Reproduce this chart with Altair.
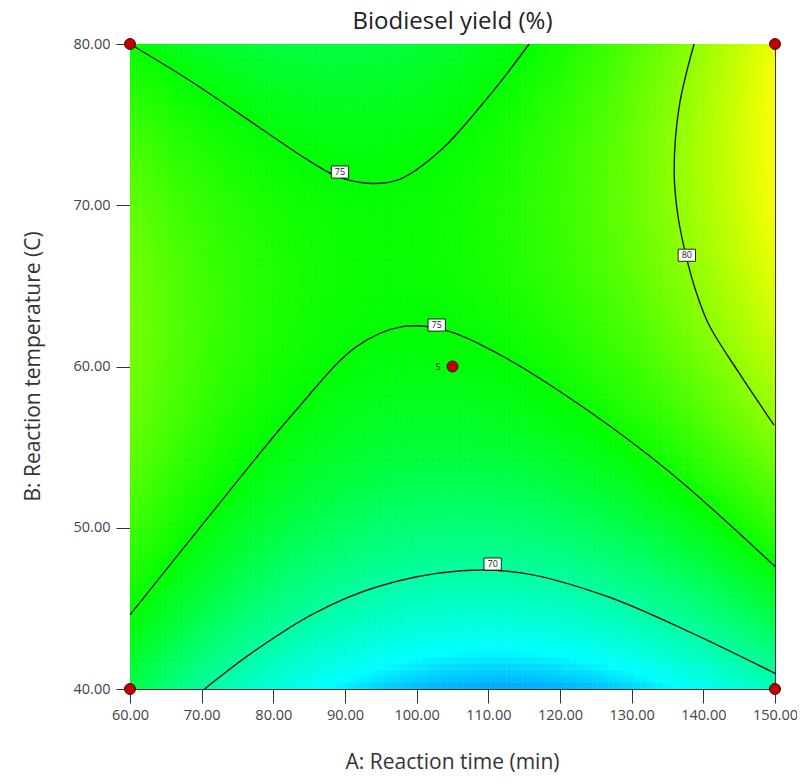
import numpy as np
import pandas as pd
import altair as alt

alt.data_transformers.disable_max_rows()

# ---- contour traces (A: time, B: temperature) ----
top75_x = [60.0, 68.6, 77.9, 84.8, 89.0, 93.2, 97.4, 103.4, 110.4, 115.7]
top75_y = [80.0, 77.66, 74.87, 72.81, 71.77, 71.36, 71.57, 73.43, 76.94, 80.0]

mid75_x = [60.0, 71.0, 82.8, 91.6, 98.0, 103.9, 112.1, 123.8, 135.5, 150.0]
mid75_y = [44.6, 50.69, 57.10, 61.23, 62.47, 62.26, 60.61, 57.30, 53.38, 47.6]

c70_x = [70.4, 76.9, 85.7, 94.5, 106.2, 115.0, 126.7, 138.5, 150.0]
c70_y = [40.0, 42.21, 44.69, 46.34, 47.33, 47.17, 45.72, 43.45, 40.97]

c80_x = [138.71, 136.62, 135.93, 136.48, 137.60, 139.00, 140.80, 144.98, 149.86]
c80_y = [80.0, 76.09, 72.0, 69.27, 66.85, 64.62, 62.57, 59.60, 56.37]

curves = [
    ("t75", 75, top75_x, top75_y),
    ("m75", 75, mid75_x, mid75_y),
    ("c70", 70, c70_x, c70_y),
    ("c80", 80, c80_x, c80_y),
]

# contour labels
lab_x = [89.3, 102.8, 110.6, 137.7]
lab_y = [72.06, 62.57, 47.75, 66.9]
lab_t = ["75", "75", "70", "80"]

# design points
pt_x = [60, 60, 150, 150, 105]
pt_y = [40, 80, 40, 80, 60]

# colour stops
c_dom = [62, 67, 75, 84, 93]
c_rng = ["#0000ff", "#00ffff", "#00ff00", "#ffff00", "#ff0000"]

title_text = ["Biodiesel yield (%)"]

# ---- fit quadratic response surface to the traced contour points ----
rows = []
for name, lvl, xs, ys in curves:
    for xx, yy in zip(xs, ys):
        rows.append((xx, yy, lvl))
P = np.array(rows, dtype=float)
a = (P[:, 0] - 105) / 45
b = (P[:, 1] - 60) / 20
M = np.column_stack([np.ones_like(a), a, b, a * b, a * a, b * b])
coef, *_ = np.linalg.lstsq(M, P[:, 2], rcond=None)

nx, ny = 120, 100
xe = np.linspace(60, 150, nx + 1)
ye = np.linspace(40, 80, ny + 1)
xc = (xe[:-1] + xe[1:]) / 2
yc = (ye[:-1] + ye[1:]) / 2
XX, YY = np.meshgrid(xc, yc)
A = (XX - 105) / 45
B = (YY - 60) / 20
Z = coef[0] + coef[1] * A + coef[2] * B + coef[3] * A * B + coef[4] * A * A + coef[5] * B * B
X0, Y0 = np.meshgrid(xe[:-1], ye[:-1])
X1, Y1 = np.meshgrid(xe[1:], ye[1:])
grid = pd.DataFrame({
    "x": X0.ravel(), "x2": X1.ravel(),
    "y": Y0.ravel(), "y2": Y1.ravel(),
    "z": np.round(Z.ravel(), 3),
})

line_rows = []
for name, lvl, xs, ys in curves:
    for i, (xx, yy) in enumerate(zip(xs, ys)):
        line_rows.append({"x": xx, "y": yy, "curve": name, "i": i})
lines = pd.DataFrame(line_rows)
labels = pd.DataFrame({"x": lab_x, "y": lab_y, "t": lab_t})
points = pd.DataFrame({"x": pt_x, "y": pt_y})
center_lab = pd.DataFrame({"x": [103.0], "y": [60.0], "t": ["5"]})

FONT = "Open Sans"
xaxis = alt.Axis(
    values=list(range(60, 151, 10)), format=".2f", tickSize=14, labelPadding=5,
    labelFontSize=14.5, labelColor="#444", labelFont=FONT, labelFlush=False,
    tickColor="#333", domainColor="#333", grid=False,
    title="A: Reaction time (min)", titleFont=FONT, titleFontSize=21,
    titleFontWeight="normal", titleColor="#333", titleX=322, titleY=73,
    titleBaseline="middle",
)
yaxis = alt.Axis(
    values=list(range(40, 81, 10)), format=".2f", tickSize=14, labelPadding=6,
    labelFontSize=14.5, labelColor="#444", labelFont=FONT, labelFlush=False,
    tickColor="#333", domainColor="#333", grid=False,
    title="B: Reaction temperature (C)", titleFont=FONT, titleFontSize=21,
    titleFontWeight="normal", titleColor="#333", titleX=-97, titleY=322,
    titleAngle=-90, titleAlign="center", titleBaseline="middle",
)
xs_ = alt.Scale(domain=[60, 150], nice=False, zero=False)
ys_ = alt.Scale(domain=[40, 80], nice=False, zero=False)
X = alt.X("x:Q", scale=xs_, axis=xaxis)
Y = alt.Y("y:Q", scale=ys_, axis=yaxis)
cscale = alt.Scale(domain=c_dom, range=c_rng, interpolate="rgb")

heat = alt.Chart(grid).mark_rect(strokeWidth=0.6, clip=True).encode(
    x=X, x2="x2:Q", y=Y, y2="y2:Q",
    color=alt.Color("z:Q", scale=cscale, legend=None),
    stroke=alt.Stroke("z:Q", scale=cscale, legend=None),
)

cl = alt.Chart(lines).mark_line(color="#1a1a1a", strokeWidth=1.4, interpolate="catmull-rom").encode(
    x=X, y=Y, detail="curve:N", order="i:Q"
)

boxes = alt.Chart(labels).mark_point(
    shape="M-1,-0.7H1V0.7H-1Z", size=300, filled=True, fill="white",
    stroke="#111", strokeWidth=0.9, opacity=1,
).encode(x=X, y=Y)

btxt = alt.Chart(labels).mark_text(fontSize=9, font=FONT, color="#222").encode(
    x=X, y=Y, text="t:N"
)

dots = alt.Chart(points).mark_circle(size=120, color="#c00000", stroke="#4a0000",
                                     strokeWidth=1, opacity=1).encode(x=X, y=Y)

ctxt = alt.Chart(center_lab).mark_text(fontSize=9, font=FONT, color="#222").encode(
    x=X, y=Y, text="t:N"
)

ttl = alt.Chart(pd.DataFrame({"t": title_text})).mark_text(
    fontSize=24, font=FONT, color="#222", align="center", baseline="middle"
).encode(x=alt.value(322.5), y=alt.value(-22), text="t:N")

chart = alt.layer(heat, cl, boxes, btxt, dots, ctxt, ttl).properties(
    width=645, height=645,
    padding={"left": 122, "top": 36, "right": 22, "bottom": 86},
    autosize=alt.AutoSizeParams(type="none"),
).configure_view(stroke="#333", strokeWidth=1)

chart.save("out.html", embed_options={"renderer": "svg", "actions": False})
